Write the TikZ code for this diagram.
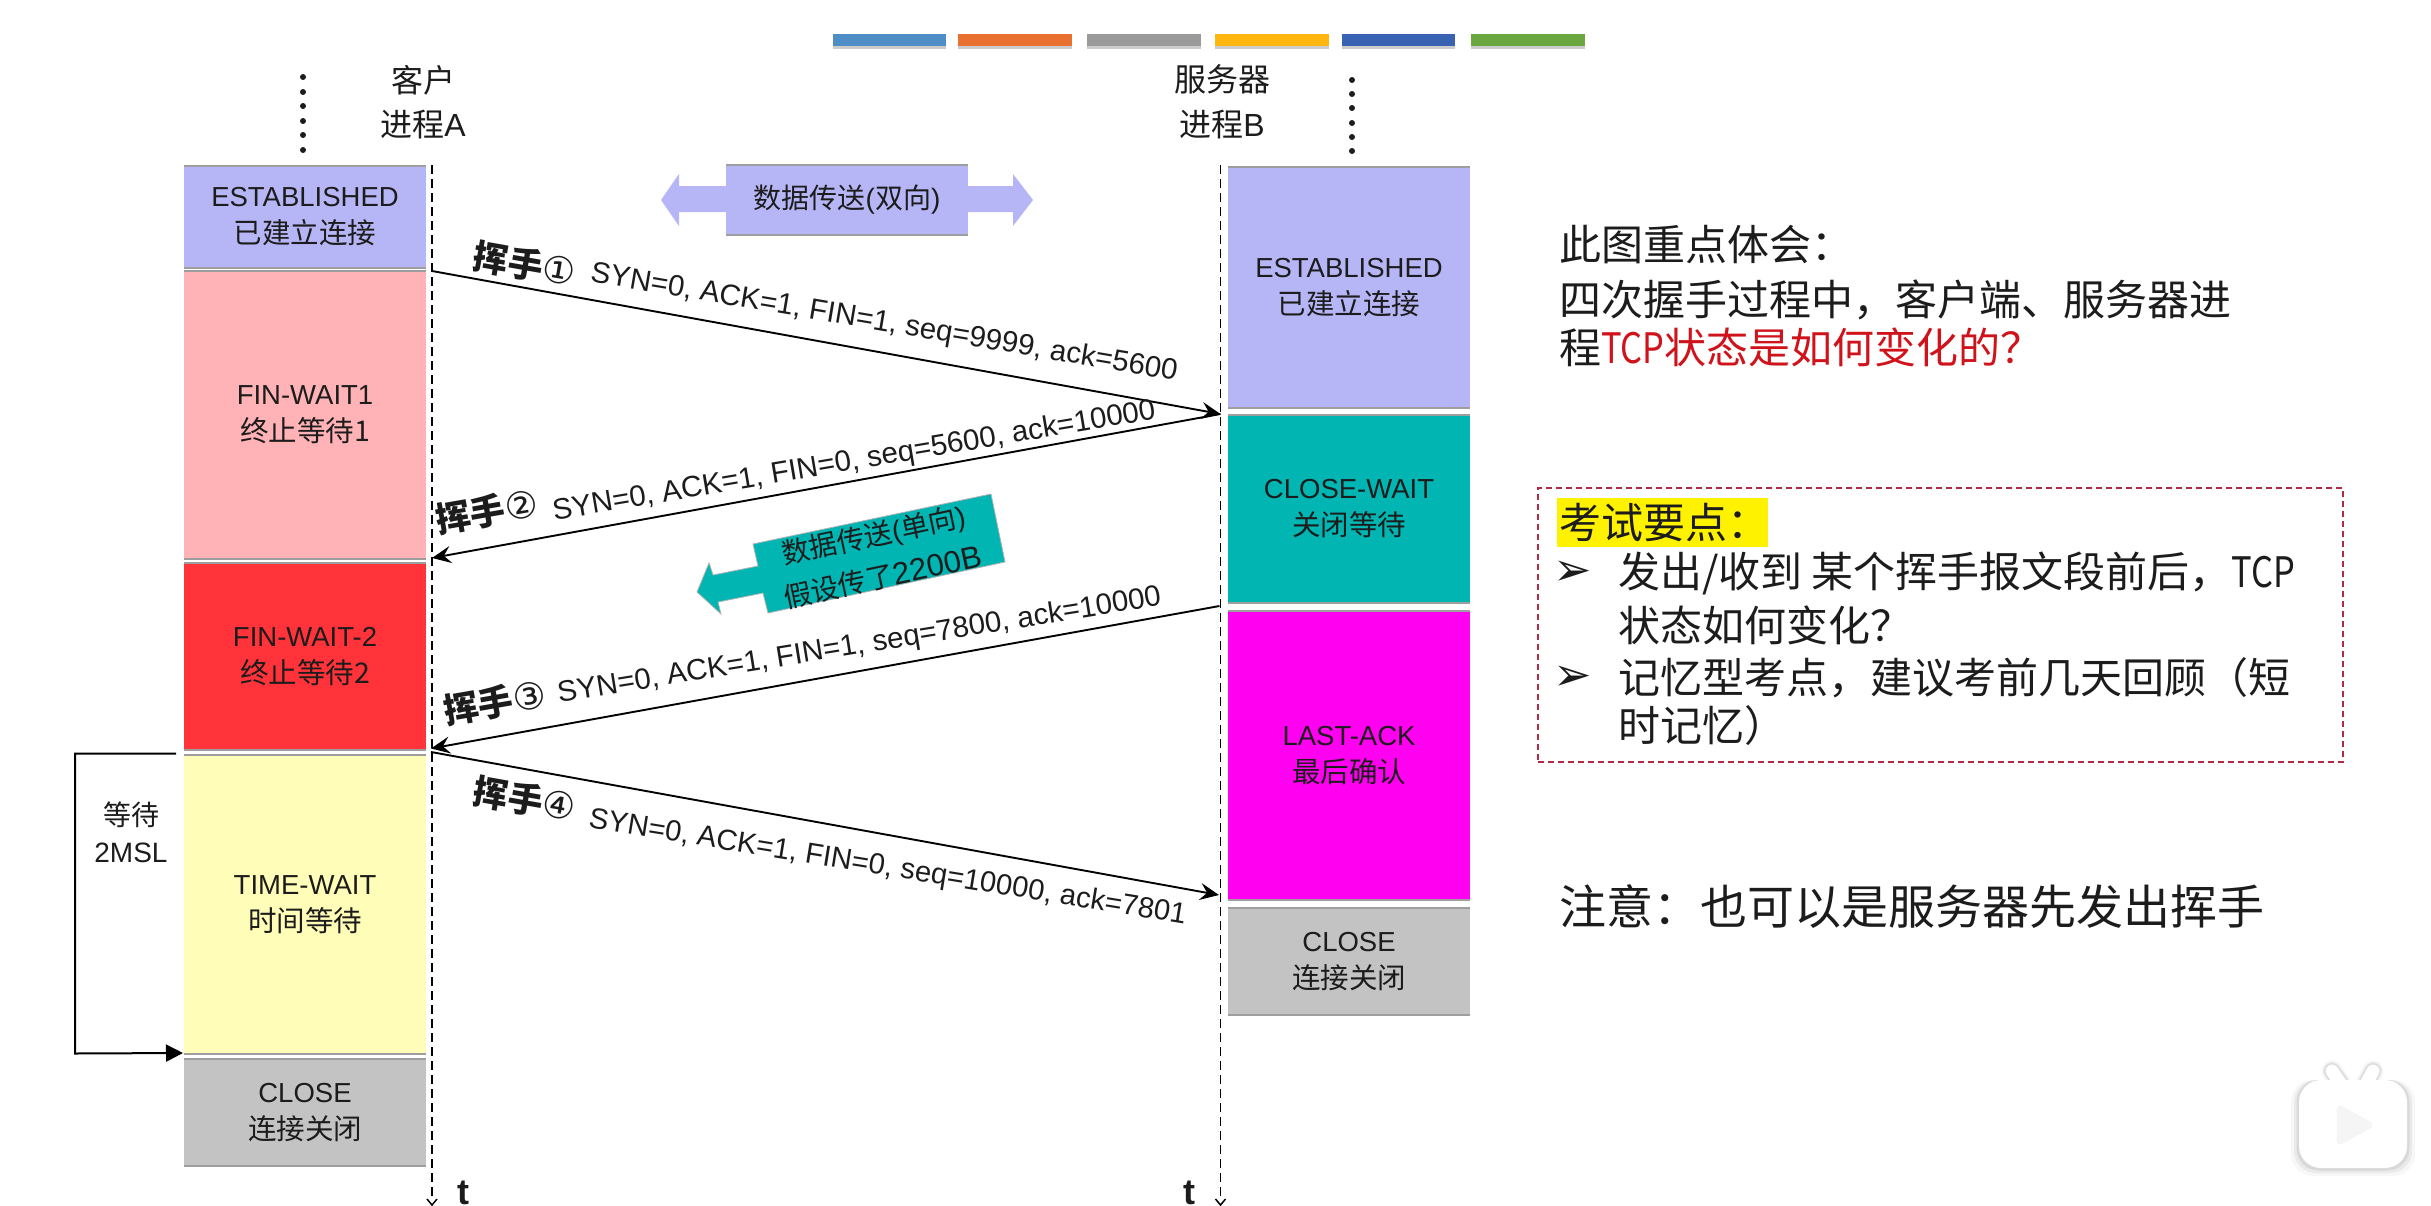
\documentclass[tikz,border=0pt]{standalone}
\usepackage{fontspec}
\setmainfont{Liberation Sans}
\newfontfamily\cjk{Noto Sans CJK SC}
\newfontfamily\symb{DejaVu Sans}
\usetikzlibrary{arrows.meta,shadows}
\definecolor{lav}{HTML}{B6B5F6}
\definecolor{pinkst}{HTML}{FFB3B6}
\definecolor{redst}{HTML}{FF3339}
\definecolor{yelst}{HTML}{FFFDB8}
\definecolor{grayst}{HTML}{C3C3C3}
\definecolor{tealst}{HTML}{00B5B2}
\definecolor{magst}{HTML}{FF00F0}
\definecolor{inkc}{HTML}{1C1C1C}
\definecolor{redtx}{HTML}{D0121B}
\definecolor{dashc}{HTML}{B02A45}
\newcommand{\C}[1]{{\cjk #1}}
\newcommand{\fsz}[2]{\fontsize{#1}{#2}\selectfont}
\newcommand{\TCPn}{\scalebox{.82}[1]{\C{TCP}}}
\newcommand{\handtx}[1]{{\cjk\bfseries 挥手}{\fsz{37}{40}\symb #1}}
\tikzset{
  every node/.style={text=inkc,inner sep=0pt,outer sep=0pt},
  statebox/.style={align=center,font=\fsz{27.5}{37}},
  rimline/.style={draw=black!38,line width=2pt},
  topbar/.style={inner sep=0pt,minimum height=12pt,drop shadow={shadow xshift=0pt,shadow yshift=-3pt,opacity=.2,fill=black}},
  lifeline/.style={line width=1.8pt,dash pattern=on 9pt off 5pt},
  msg/.style={line width=1.9pt,-{Stealth[length=19pt,width=17pt,inset=7pt]}},
  msglabel/.style={anchor=west,font=\fsz{29.5}{34}},
  hand/.style={anchor=west,font=\fsz{35}{40}},
  sidetext/.style={anchor=west,font=\fsz{42}{50}},
  dotm/.style={circle,fill=inkc,minimum size=6pt},
}
\newcommand{\stbox}[8]{%
  \node[statebox,fill=#6,minimum width={#4-#2},minimum height={#5-#3}] (#1) at ({(#2+#4)/2},{(#3+#5)/2}) {#7\\{\fsz{28.5}{37}\C{#8}}};
  \draw[rimline] (#1.north west) -- (#1.north east);
  \draw[rimline] (#1.south west) -- (#1.south east);}
\begin{document}
\begin{tikzpicture}[x=1pt,y=-1pt]
\useasboundingbox (0,0) rectangle (2431,1205);
\fill[white] (0,0) rectangle (2431,1205);

% top colour bars
\foreach \n/\xa/\xb/\col in {b1/833/946/4E8DC6,b2/958/1072/E87030,b3/1087/1201/9A9A9A,b4/1215/1329/FFB70F,b5/1342/1455/3A62B2,b6/1471/1585/6AA83F}{
  \definecolor{barc}{HTML}{\col}
  \node[topbar,fill=barc,minimum width={\xb-\xa}] (\n) at ({(\xa+\xb)/2},40) {};
}

% dotted columns
\foreach \i/\y in {1/77,2/92,3/106,4/121,5/135,6/150}{\node[dotm] (dl\i) at (303,\y) {};}
\foreach \i/\y in {1/80,2/94,3/108,4/123,5/137,6/151}{\node[dotm] (dr\i) at (1352,\y) {};}

% headers
\node[font=\fsz{32}{44},align=center] (hA) at (423,102) {\C{客户}\\\C{进程}A};
\node[font=\fsz{32}{45},align=center] (hB) at (1222,102) {\C{服务器}\\\C{进程}B};

% state columns
\stbox{s1}{184}{166}{426}{268}{lav}{ESTABLISHED}{已建立连接}
\stbox{s2}{184}{271}{426}{559}{pinkst}{FIN-WAIT1}{终止等待1}
\stbox{s3}{184}{563}{426}{750}{redst}{FIN-WAIT-2}{终止等待2}
\stbox{s4}{184}{755}{426}{1054}{yelst}{TIME-WAIT}{时间等待}
\stbox{s5}{184}{1059}{426}{1166}{grayst}{CLOSE}{连接关闭}
\stbox{r1}{1228}{167}{1470}{408}{lav}{ESTABLISHED}{已建立连接}
\stbox{r2}{1228}{415}{1470}{603}{tealst}{CLOSE-WAIT}{关闭等待}
\stbox{r3}{1228}{611}{1470}{900}{magst}{LAST-ACK}{最后确认}
\stbox{r4}{1228}{908}{1470}{1015}{grayst}{CLOSE}{连接关闭}

% lifelines
\coordinate (la) at (432,165);
\coordinate (lb) at (432,1200);
\coordinate (ra) at (1220.5,165);
\coordinate (rb) at (1220.5,1200);
\draw[lifeline] (la) -- (lb);
\draw[lifeline,line width=1.5pt] (ra) -- (rb);
\coordinate (lbt) at (432,1205);
\coordinate (rbt) at (1220.5,1205);
\draw[line width=1.5pt] (427,1199) -- (lbt) -- (437,1199);
\draw[line width=1.5pt] (1215.5,1199) -- (rbt) -- (1225.5,1199);
\node[anchor=base,font=\fsz{36}{40}\bfseries] (ta) at (463,1204) {t};
\node[anchor=base,font=\fsz{36}{40}\bfseries] (tb) at (1189,1204) {t};

% bidirectional data arrow
\fill[lav] (726,186) -- (679,186) -- (679,174) -- (661,200) -- (679,226) -- (679,212) -- (726,212) -- cycle;
\fill[lav] (968,186) -- (1013,186) -- (1013,174) -- (1033,200) -- (1013,226) -- (1013,212) -- (968,212) -- cycle;
\node[fill=lav,minimum width=242pt,minimum height=70pt,font=\fsz{28}{34}] (bidi) at (847,200) {\C{数据传送}(\C{双向})};
\draw[rimline] (bidi.north west) -- (bidi.north east);
\draw[rimline] (bidi.south west) -- (bidi.south east);

% unidirectional data arrow
\fill[tealst,draw=black!30,line width=.8pt] (991,494) -- (1005,562) -- (768,613) -- (763,593) -- (718,602) -- (721,614) -- (697,592) -- (709,563) -- (713,575) -- (758,566) -- (753,544) -- cycle;
\node[rotate=12,align=center,font=\fsz{28}{43}] (uni) at (878,556) {\C{数据传送}(\C{单向})\\\C{假设传了}{\fsz{31}{43}2200B}};

% handshake messages
\coordinate (m1a) at (432,271);
\coordinate (m1b) at (1220.5,414);
\coordinate (m2a) at (1220.5,414);
\coordinate (m2b) at (432,558);
\coordinate (m3a) at (1219.5,606);
\coordinate (m3b) at (431,748.5);
\coordinate (m4a) at (431,752);
\coordinate (m4b) at (1219,895);
\draw[msg] (m1a) -- (m1b);
\draw[msg] (m2a) -- (m2b);
\draw[msg] (m3a) -- (m3b);
\draw[msg] (m4a) -- (m4b);

\node[hand,rotate=-10] (h1) at (474,255) {\handtx{①}};
\node[msglabel,rotate=-9.6] (t1) at (591,274) {SYN=0, ACK=1, FIN=1, seq=9999, ack=5600};
\node[hand,rotate=10] (h2) at (436,520) {\handtx{②}};
\node[msglabel,rotate=9.6] (t2) at (553,513) {SYN=0, ACK=1, FIN=0, seq=5600, ack=10000};
\node[hand,rotate=10] (h3) at (444,711) {\handtx{③}};
\node[msglabel,rotate=9.2] (t3) at (558,695) {SYN=0, ACK=1, FIN=1, seq=7800, ack=10000};
\node[hand,rotate=-10] (h4) at (474,790) {\handtx{④}};
\node[msglabel,rotate=-9.2,font=\fsz{29.2}{34}] (t4) at (589,820) {SYN=0, ACK=1, FIN=0, seq=10000, ack=7801};

% 2MSL bracket
\coordinate (w1) at (176,753.5);
\coordinate (w2) at (75,753.5);
\coordinate (w3) at (75,1053.5);
\coordinate (w4) at (183,1053);
\draw[line width=2pt,-{Triangle[length=17pt,width=17pt]}] (w1) -- (w2) -- (w3) -- (w4);
\node[font=\fsz{28}{37},align=center] (wl) at (131,832) {\C{等待}\\2MSL};

% right text
\node[sidetext] (p1) at (1559,245) {\C{此图重点体会：}};
\node[sidetext] (p2) at (1559,300) {\C{四次握手过程中，客户端、服务器进}};
\node[sidetext] (p3) at (1559,347) {\C{程}\textcolor{redtx}{\TCPn\C{状态是如何变化的？}}};

\node[draw=dashc,line width=2pt,dash pattern=on 6pt off 4pt,minimum width=805pt,minimum height=274pt] (exam) at (1940.5,625) {};
\node[fill=yellow,minimum width=211pt,minimum height=49pt] (hl) at (1662.5,522.5) {};
\node[sidetext] (e0) at (1559,523) {\C{考试要点：}};
\node[font=\fsz{46}{50}\symb\bfseries] (b1m) at (1573,573) {➢};
\node[sidetext] (e1) at (1618,573) {\C{发出/收到 某个挥手报文段前后，}\TCPn};
\node[sidetext] (e2) at (1618,625) {\C{状态如何变化？}};
\node[font=\fsz{46}{50}\symb\bfseries] (b2m) at (1573,678) {➢};
\node[sidetext] (e3) at (1618,678) {\C{记忆型考点，建议考前几天回顾（短}};
\node[sidetext] (e4) at (1618,726) {\C{时记忆）}};
\node[sidetext,font=\fsz{47}{54}] (note) at (1559,907) {\C{注意：也可以是服务器先发出挥手}};

% video icon
\foreach \o/\a in {8/.03,5/.05,2.5/.07}{
  \fill[black,opacity=\a,rounded corners=22pt] (2299-\o,1080) rectangle (2407+\o,1168+\o);
  \draw[black,opacity=\a,line width={13+\o},line cap=round] (2341,1084) -- (2332,1071);
  \draw[black,opacity=\a,line width={13+\o},line cap=round] (2366,1084) -- (2373,1071);
}
\draw[white,line width=13pt,line cap=round] (2341,1084) -- (2332,1071);
\draw[white,line width=13pt,line cap=round] (2366,1084) -- (2373,1071);
\fill[white,rounded corners=22pt] (2299,1080) rectangle (2407,1168);
\fill[black!4,draw=black!4,line width=7pt,line join=round] (2340,1109) -- (2369,1125) -- (2340,1141) -- cycle;
\end{tikzpicture}
\end{document}
